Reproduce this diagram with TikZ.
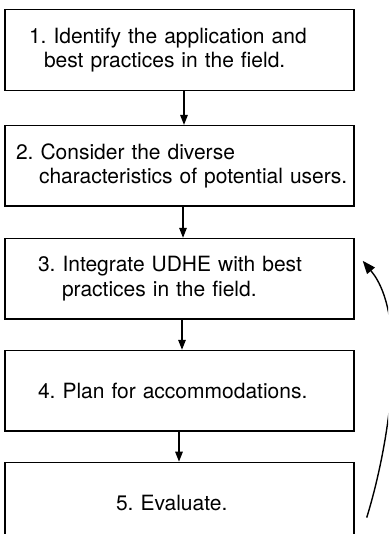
\documentclass[tikz,border=0pt]{standalone}
\usepackage{fontspec}
\setmainfont{TeX Gyre Heros}
\usetikzlibrary{arrows.meta, positioning}

\begin{document}
\begin{tikzpicture}[
        % Step of the process
        stepbox/.style={
                rectangle,
                draw,
                line width=1.4pt,
                minimum height=80.5pt,
                text width=339pt,
                inner xsep=5pt,
                align=left,
                font=\fontsize{21}{24.4}\selectfont\frenchspacing
            },
        % Arrow between steps
        flow/.style={
                -{Triangle[length=10pt, width=7.5pt]},
                line width=1.4pt
            },
        % Arrow back to step 3
        feedback/.style={
                -{Triangle[length=13pt, width=10pt]},
                line width=1.4pt
            }
    ]

    \clip (0,0) rectangle (388pt,-534pt);

    % STEPS
    \node[stepbox] (s1) at (179.5pt,-50pt) {\hspace*{19pt}1. Identify the application and\\\hspace*{34pt}best practices in the field.};
    \node[stepbox, below=34pt of s1] (s2) {\hspace*{6pt}2. Consider the diverse\\\hspace*{29pt}characteristics of potential users.};
    \node[stepbox, below=31pt of s2] (s3) {\hspace*{28pt}3. Integrate UDHE with best\\\hspace*{52pt}practices in the field.};
    \node[stepbox, below=30pt of s3] (s4) {\hspace*{28pt}4. Plan for accommodations.};
    \node[stepbox, below=30pt of s4] (s5) {\hspace*{106pt}5. Evaluate.};

    % Arrows down
    \draw[flow] ([xshift=4.5pt]s1.south) -- ([xshift=4.5pt]s2.north);
    \draw[flow] ([xshift=3.5pt]s2.south) -- ([xshift=3.5pt]s3.north);
    \draw[flow] ([xshift=2.5pt]s3.south) -- ([xshift=2.5pt]s4.north);
    \draw[flow] ([xshift=-0.5pt]s4.south) -- ([xshift=-0.5pt]s5.north);

    % Back from evaluation to step 3
    \coordinate (back) at ([xshift=12pt, yshift=-15pt]s5.east);
    \coordinate (again) at ([xshift=8pt, yshift=18pt]s3.east);
    \draw[feedback] (back) .. controls +(21.8pt,70.2pt) and +(47.2pt,-56.6pt) .. (again);

\end{tikzpicture}
\end{document}
